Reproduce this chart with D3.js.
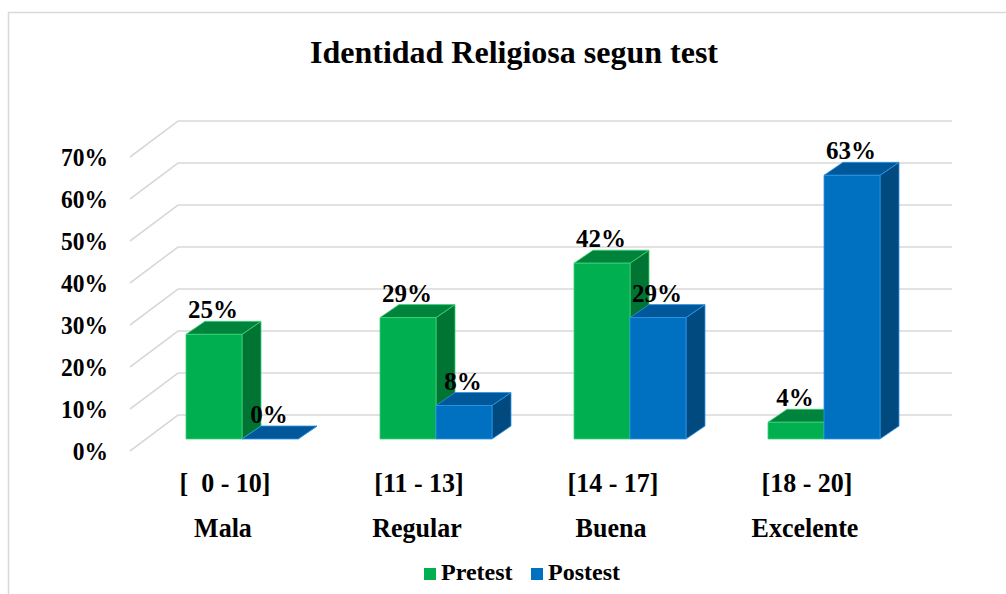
<!DOCTYPE html>
<html><head><meta charset="utf-8">
<script src="https://cdn.jsdelivr.net/npm/d3@7"></script>
<style>body{margin:0;background:#fff}svg{display:block}</style>
</head><body><svg id="c" width="1006" height="594" font-family="Liberation Serif, Times New Roman, serif" font-weight="bold"></svg>
<script>
const categories = ["Mala","Regular","Buena","Excelente"];
const ranges = ["[  0 - 10]","[11 - 13]","[14 - 17]","[18 - 20]"];
const series = ["Pretest","Postest"];
const pretest = [25,29,42,4];
const postest = [0,8,29,63];
const yTicks = [0,10,20,30,40,50,60,70];
const title = "Identidad Religiosa segun test";

const colors = {
  Pretest:{front:"#00b050", top:"#00843c", side:"#007533", stroke:"#3dd27a"},
  Postest:{front:"#0070c0", top:"#00589a", side:"#004a80", stroke:"#2e95e6"}
};
const svg = d3.select("#c");
svg.append("rect").attr("x",8.5).attr("y",12.5).attr("width",1100).attr("height",700)
  .attr("fill","#fff").attr("stroke","#d9d9d9").attr("stroke-width",1.5);

function stretch(sel, y, k){ return sel.attr("transform",`translate(0,${y}) scale(1,${k||1.05}) translate(0,${-y})`); }

svg.append("text").attr("x",514).attr("y",63).attr("text-anchor","middle")
  .attr("font-size",32).text(title);

const yFront = d3.scaleLinear().domain([0,70]).range([439,146]);
const yBack = d3.scaleLinear().domain([0,70]).range([415,121]);
const wallX0 = 130, wallX1 = 178, wallDrop = 36, gridRight = 952;
const x = d3.scaleBand().domain(categories).range([150,926]);
const xs = d3.scaleBand().domain(series).range([36,148]);
const dx = 19, dy = -13;

const grid = svg.append("g");
yTicks.forEach(t=>{
  const yb = yBack(t);
  grid.append("path").attr("d",`M${wallX0},${yb+wallDrop}L${wallX1},${yb}L${gridRight},${yb}`)
    .attr("fill","none").attr("stroke","#d9d9d9").attr("stroke-width",1.6);
  stretch(svg.append("text").attr("x",108).attr("y",yb+wallDrop+9).attr("text-anchor","end")
    .attr("font-size",23.5).text(t+"%"), yb+wallDrop+9);
});

const data = categories.map((c,i)=>({c, vals:[{s:"Pretest",v:pretest[i]},{s:"Postest",v:postest[i]}]}));
const bars = svg.append("g");
data.forEach(d=>{
  d.vals.forEach(b=>{
    const x0 = x(d.c)+xs(b.s), x1 = x0+xs.bandwidth();
    const y0 = yFront(0), y1 = yFront(b.v);
    const col = colors[b.s];
    const g = bars.append("g").attr("stroke",col.stroke).attr("stroke-width",0.8).attr("stroke-linejoin","round");
    g.append("path").attr("fill",col.side)
      .attr("d",`M${x1},${y1}L${x1+dx},${y1+dy}L${x1+dx},${y0+dy}L${x1},${y0}Z`);
    g.append("path").attr("fill",col.top)
      .attr("d",`M${x0},${y1}L${x0+dx},${y1+dy}L${x1+dx},${y1+dy}L${x1},${y1}Z`);
    g.append("rect").attr("fill",col.front).attr("x",x0).attr("y",y1).attr("width",x1-x0).attr("height",y0-y1);
    svg.append("text").attr("x",(x0+x1)/2 - 1).attr("y",y1+dy-3).attr("text-anchor","middle")
      .attr("font-size",25).text(b.v+"%");
  });
});

categories.forEach((c,i)=>{
  const cx = x(c)+75;
  stretch(svg.append("text").attr("x",cx).attr("y",492).attr("text-anchor","middle").attr("font-size",26)
    .style("white-space","pre").text(ranges[i]), 492, 1.08);
  stretch(svg.append("text").attr("x",cx-2).attr("y",537).attr("text-anchor","middle").attr("font-size",26)
    .text(c), 537, 1.08);
});

const leg = svg.append("g");
const legItems = [{s:"Pretest",x:424},{s:"Postest",x:531}];
legItems.forEach(l=>{
  leg.append("rect").attr("x",l.x).attr("y",568).attr("width",12).attr("height",12).attr("fill",colors[l.s].front);
  leg.append("text").attr("x",l.x+17).attr("y",580).attr("font-size",24).text(l.s);
});
</script></body></html>
